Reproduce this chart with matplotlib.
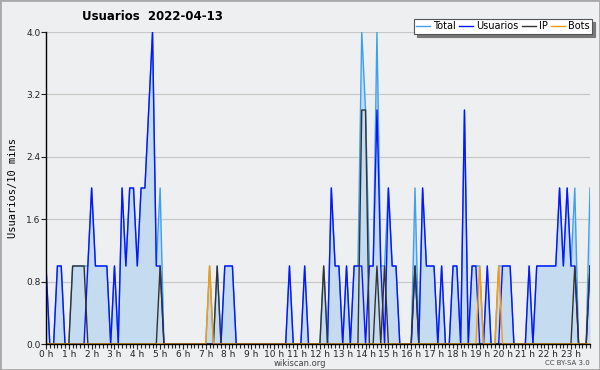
import matplotlib

matplotlib.use("Agg")
import matplotlib.pyplot as plt
from matplotlib.patches import Rectangle
from matplotlib.ticker import FixedLocator, MultipleLocator

# 10-minute bins, one row per hour (0 h .. 23 h)
total = [
    1, 0, 0, 1, 1, 0,
    0, 1, 1, 1, 1, 1,
    2, 1, 1, 1, 1, 0,
    1, 0, 2, 1, 2, 2,
    1, 2, 2, 3, 4, 1,
    2, 0, 0, 0, 0, 0,
    0, 0, 0, 0, 0, 0,
    0, 1, 0, 1, 0, 1,
    1, 1, 0, 0, 0, 0,
    0, 0, 0, 0, 0, 0,
    0, 0, 0, 0, 1, 0,
    0, 0, 1, 0, 0, 0,
    0, 1, 0, 2, 1, 1,
    0, 1, 0, 1, 1, 4,
    3, 1, 1, 4, 1, 1,
    2, 1, 1, 0, 0, 0,
    0, 2, 0, 2, 1, 1,
    1, 0, 1, 0, 0, 1,
    1, 0, 3, 0, 1, 1,
    1, 0, 1, 0, 0, 1,
    1, 1, 1, 0, 0, 0,
    0, 1, 0, 1, 1, 1,
    1, 1, 1, 2, 1, 2,
    1, 2, 0, 0, 0, 2,
]
usuarios = [
    1, 0, 0, 1, 1, 0,
    0, 0, 0, 0, 0, 1,
    2, 1, 1, 1, 1, 0,
    1, 0, 2, 1, 2, 2,
    1, 2, 2, 3, 4, 1,
    1, 0, 0, 0, 0, 0,
    0, 0, 0, 0, 0, 0,
    0, 0, 0, 0, 0, 1,
    1, 1, 0, 0, 0, 0,
    0, 0, 0, 0, 0, 0,
    0, 0, 0, 0, 1, 0,
    0, 0, 1, 0, 0, 0,
    0, 0, 0, 2, 1, 1,
    0, 1, 0, 1, 1, 1,
    0, 1, 1, 3, 1, 0,
    2, 1, 1, 0, 0, 0,
    0, 1, 0, 2, 1, 1,
    1, 0, 1, 0, 0, 1,
    1, 0, 3, 0, 1, 1,
    0, 0, 1, 0, 0, 0,
    1, 1, 1, 0, 0, 0,
    0, 1, 0, 1, 1, 1,
    1, 1, 1, 2, 1, 2,
    1, 1, 0, 0, 0, 1,
]
ip = [
    0, 0, 0, 0, 0, 0,
    0, 1, 1, 1, 1, 0,
    0, 0, 0, 0, 0, 0,
    0, 0, 0, 0, 0, 0,
    0, 0, 0, 0, 0, 0,
    1, 0, 0, 0, 0, 0,
    0, 0, 0, 0, 0, 0,
    0, 0, 0, 1, 0, 0,
    0, 0, 0, 0, 0, 0,
    0, 0, 0, 0, 0, 0,
    0, 0, 0, 0, 0, 0,
    0, 0, 0, 0, 0, 0,
    0, 1, 0, 0, 0, 0,
    0, 0, 0, 0, 0, 3,
    3, 0, 0, 1, 0, 1,
    0, 0, 0, 0, 0, 0,
    0, 1, 0, 0, 0, 0,
    0, 0, 0, 0, 0, 0,
    0, 0, 0, 0, 0, 0,
    0, 0, 0, 0, 0, 0,
    0, 0, 0, 0, 0, 0,
    0, 0, 0, 0, 0, 0,
    0, 0, 0, 0, 0, 0,
    0, 1, 0, 0, 0, 1,
]
bots = [0] * 144
for i in (43, 114, 119):
    bots[i] = 1

hour_labels = [f"{h} h" for h in range(24)]
yticks = [0.0, 0.8, 1.6, 2.4, 3.2, 4.0]

bg = "#eeeff0"
fig = plt.figure(figsize=(6, 3.7), dpi=100, facecolor=bg)
fig.patches.append(Rectangle((0, 0), 1, 1, transform=fig.transFigure,
                             fill=False, edgecolor="#a8a8a8", linewidth=2))

ax = fig.add_axes([46 / 600, 26 / 370, 544 / 600, 312 / 370], facecolor=bg)
x = list(range(len(total)))

ax.fill_between(x, total, color="#c5dcf0", linewidth=0, zorder=1)
ax.plot(x, total, color="#3ea0f0", lw=1.0, label="Total", zorder=2)
ax.plot(x, usuarios, color="#0a14ff", lw=1.0, label="Usuarios", zorder=2)
ax.plot(x, ip, color="#333333", lw=1.0, label="IP", zorder=2)
ax.plot(x, bots, color="#ff9900", lw=1.0, label="Bots", zorder=2)

ax.set_xlim(0, 143)
ax.set_ylim(0, 4.0)
ax.set_yticks(yticks)
ax.set_yticklabels([f"{v:.1f}" for v in yticks])
ax.xaxis.set_major_locator(FixedLocator(range(0, 144, 6)))
ax.set_xticklabels(hour_labels)
ax.xaxis.set_minor_locator(MultipleLocator(1))
ax.tick_params(axis="both", which="both", direction="out", length=3.5,
               width=0.8, labelsize=6.5, colors="#222222", pad=0.5)
ax.tick_params(axis="x", which="minor", length=3)
ax.grid(axis="y", color="#c8c8c8", lw=0.9, zorder=0)
ax.set_axisbelow(True)
for s in ("top", "right"):
    ax.spines[s].set_visible(False)
for s in ("left", "bottom"):
    ax.spines[s].set_linewidth(1.0)
    ax.spines[s].set_zorder(5)

ax.set_ylabel("Usuarios/10 mins", family="DejaVu Sans Mono", fontsize=7.5,
              labelpad=6)

fig.text(82 / 600, 1 - 17 / 370, "Usuarios  2022-04-13", fontsize=8.5,
         fontweight="bold", va="center", ha="left")
fig.text(300 / 600, 1 - 363 / 370, "wikiscan.org", fontsize=6,
         color="#444444", ha="center", va="center")
fig.text(590 / 600, 1 - 363 / 370, "CC BY-SA 3.0", fontsize=5,
         color="#444444", ha="right", va="center")

leg = fig.legend(loc="upper right", bbox_to_anchor=(592 / 600, 1 - 19 / 370),
                 ncol=4, fontsize=7, frameon=True, fancybox=False,
                 shadow={"color": "#777777", "alpha": 1.0},
                 handlelength=1.4, handletextpad=0.3, columnspacing=0.4,
                 borderpad=0.25, borderaxespad=0)
leg.get_frame().set_edgecolor("#555555")
leg.get_frame().set_linewidth(0.8)

fig.savefig("out.png", dpi=100, facecolor=bg)
